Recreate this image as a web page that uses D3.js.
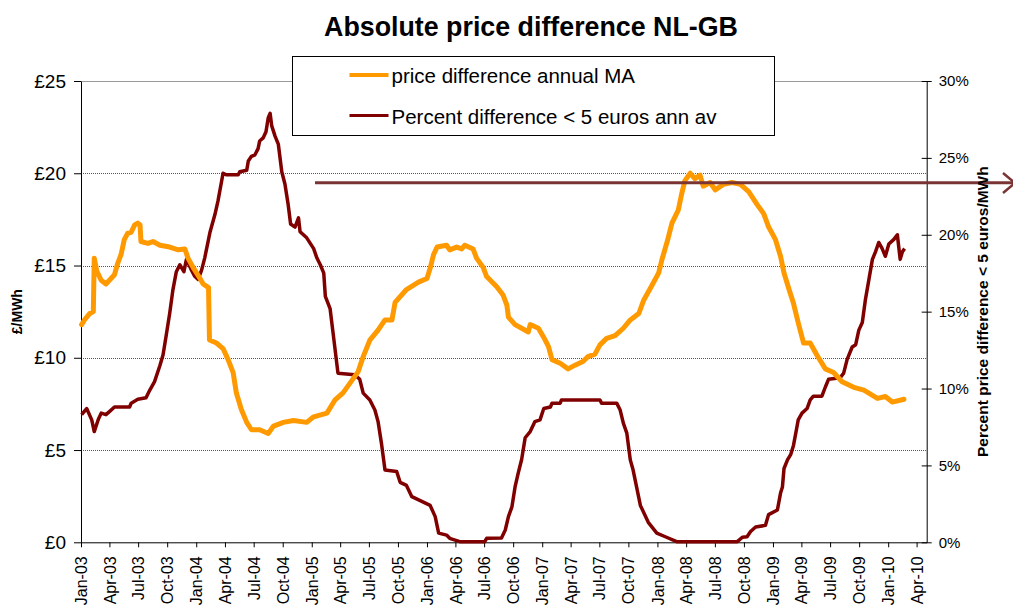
<!DOCTYPE html>
<html>
<head>
<meta charset="utf-8">
<script src="https://cdn.jsdelivr.net/npm/d3@7"></script>
<style>
  body { margin: 0; background: #fff; }
  text { font-family: "Liberation Sans", Arial, sans-serif; fill: #000; }
  .grid line { stroke: #555; stroke-dasharray: 1,1; }
</style>
</head>
<body>
<div id="chart"></div>
<script>
// price difference annual MA (GBP/MWh), left axis
var orangeDates = ["2003-01-03","2003-01-14","2003-01-29","2003-02-09","2003-02-12","2003-02-20","2003-03-06","2003-03-21","2003-04-01","2003-04-17",
  "2003-04-27","2003-05-08","2003-05-18","2003-05-29","2003-06-09","2003-06-20","2003-06-30","2003-07-07","2003-07-10","2003-08-01",
  "2003-08-17","2003-09-08","2003-10-09","2003-11-05","2003-11-26","2003-12-06","2003-12-22","2004-01-13","2004-01-23","2004-02-09",
  "2004-02-12","2004-03-05","2004-03-26","2004-04-11","2004-04-27","2004-05-07","2004-05-23","2004-06-09","2004-06-24","2004-07-20",
  "2004-08-16","2004-09-02","2004-10-03","2004-11-04","2004-12-16","2005-01-07","2005-02-18","2005-03-15","2005-04-10","2005-05-01",
  "2005-05-28","2005-06-13","2005-07-04","2005-07-30","2005-08-21","2005-09-12","2005-09-22","2005-10-28","2005-12-05","2006-01-01",
  "2006-01-11","2006-01-22","2006-02-02","2006-03-04","2006-03-14","2006-04-05","2006-04-21","2006-05-01","2006-05-27","2006-06-07",
  "2006-06-28","2006-07-09","2006-08-10","2006-08-30","2006-09-11","2006-09-16","2006-10-07","2006-10-28","2006-11-18","2006-11-24",
  "2006-12-20","2007-01-06","2007-01-21","2007-02-01","2007-02-27","2007-03-24","2007-04-15","2007-05-10","2007-05-26","2007-06-17",
  "2007-07-03","2007-07-24","2007-08-20","2007-09-15","2007-10-07","2007-11-03","2007-11-18","2007-12-14","2008-01-05","2008-01-15",
  "2008-02-01","2008-02-16","2008-03-07","2008-03-18","2008-03-28","2008-04-14","2008-04-29","2008-05-15","2008-05-25","2008-06-16",
  "2008-07-02","2008-07-28","2008-08-24","2008-09-20","2008-10-16","2008-11-12","2008-12-03","2008-12-18","2009-01-09","2009-01-25",
  "2009-02-05","2009-02-21","2009-03-07","2009-03-22","2009-04-08","2009-04-29","2009-05-20","2009-06-16","2009-07-12","2009-08-08",
  "2009-09-14","2009-10-16","2009-11-28","2009-12-23","2010-01-14","2010-02-20"];
var orangeValues = [11.8,12.1,12.4,12.5,15.4,14.7,14.2,14.0,14.2,14.5,
  15.1,15.6,16.4,16.75,16.8,17.2,17.3,17.2,16.3,16.2,
  16.3,16.1,16.0,15.85,15.9,15.4,14.9,14.3,14.0,13.8,
  10.96,10.8,10.5,9.9,9.2,8.1,7.2,6.5,6.1,6.1,
  5.9,6.3,6.5,6.6,6.5,6.8,7.0,7.7,8.1,8.6,
  9.25,10.06,10.96,11.5,12.05,12.05,13.0,13.7,14.1,14.3,
  14.85,15.6,16.0,16.1,15.85,16.0,15.9,16.1,15.9,15.4,
  14.9,14.4,13.85,13.4,12.86,12.2,11.8,11.6,11.4,11.8,
  11.6,11.1,10.6,9.9,9.7,9.4,9.6,9.8,10.06,10.2,
  10.7,11.05,11.2,11.6,12.05,12.4,13.1,13.9,14.6,15.3,
  16.3,17.3,18.0,18.9,19.6,20.0,19.7,19.9,19.3,19.5,
  19.1,19.4,19.5,19.4,19.0,18.3,17.8,17.1,16.4,15.5,
  14.6,13.7,12.95,11.9,10.8,10.8,10.15,9.4,9.2,8.7,
  8.4,8.25,7.8,7.9,7.6,7.75];

// Percent difference < 5 euros ann av (%), right axis
var redDates = ["2003-01-03","2003-01-19","2003-02-04","2003-02-12","2003-02-25","2003-03-06","2003-03-21","2003-04-01","2003-04-17","2003-06-04",
  "2003-06-09","2003-06-30","2003-07-26","2003-08-07","2003-08-22","2003-09-08","2003-09-18","2003-09-29","2003-10-09","2003-10-19",
  "2003-10-30","2003-11-10","2003-11-23","2003-12-01","2003-12-17","2003-12-27","2004-01-07","2004-01-18","2004-01-28","2004-02-14",
  "2004-02-29","2004-03-10","2004-03-26","2004-04-06","2004-05-13","2004-05-18","2004-06-09","2004-06-14","2004-06-24","2004-07-05",
  "2004-07-15","2004-07-20","2004-07-31","2004-08-09","2004-08-16","2004-08-22","2004-08-27","2004-09-07","2004-09-17","2004-09-28",
  "2004-10-08","2004-10-18","2004-10-26","2004-11-09","2004-11-20","2004-11-25","2004-12-16","2005-01-07","2005-01-17","2005-01-28",
  "2005-02-08","2005-02-13","2005-02-28","2005-03-09","2005-03-25","2005-05-17","2005-06-02","2005-06-13","2005-07-04","2005-07-20",
  "2005-07-30","2005-08-10","2005-08-21","2005-09-27","2005-10-08","2005-10-28","2005-11-14","2006-01-11","2006-01-27","2006-02-07",
  "2006-03-04","2006-03-14","2006-04-15","2006-07-03","2006-07-09","2006-08-25","2006-09-06","2006-09-16","2006-09-27","2006-10-07",
  "2006-10-17","2006-10-28","2006-11-08","2006-11-24","2006-12-09","2006-12-25","2007-01-06","2007-01-27","2007-02-01","2007-02-27",
  "2007-03-03","2007-07-03","2007-07-08","2007-08-25","2007-09-05","2007-09-15","2007-09-26","2007-10-07","2007-10-16","2007-11-08",
  "2007-12-03","2007-12-30","2008-01-26","2008-03-02","2008-09-10","2008-09-26","2008-10-11","2008-10-22","2008-11-07","2008-12-08",
  "2008-12-18","2009-01-15","2009-01-25","2009-01-31","2009-02-05","2009-02-16","2009-02-26","2009-03-07","2009-03-17","2009-03-22",
  "2009-04-03","2009-04-19","2009-04-29","2009-05-09","2009-06-05","2009-06-16","2009-06-26","2009-08-02","2009-08-13","2009-08-24",
  "2009-09-09","2009-09-20","2009-09-30","2009-10-11","2009-10-21","2009-11-01","2009-11-12","2009-11-22","2009-12-02","2009-12-13",
  "2009-12-23","2010-01-03","2010-01-19","2010-01-30","2010-02-08","2010-02-15","2010-02-22"];
var redValues = [8.3,8.7,7.96,7.2,8.0,8.4,8.3,8.5,8.8,8.8,
  9.05,9.3,9.4,9.9,10.45,11.5,12.2,13.6,14.9,16.4,
  17.6,18.05,17.6,18.4,17.7,17.3,17.1,17.7,18.5,20.2,
  21.3,22.2,24.0,23.9,23.9,24.1,24.2,24.8,25.1,25.2,
  25.6,26.1,26.3,26.7,27.6,27.9,27.1,26.4,25.9,24.1,
  23.3,22.0,20.7,20.5,21.1,20.2,19.8,19.1,18.5,18.05,
  17.5,16.0,15.2,13.7,11.0,10.9,10.6,9.7,9.26,8.6,
  7.85,6.4,4.7,4.6,3.9,3.7,2.97,2.4,1.67,0.6,
  0.47,0.26,0.04,0.04,0.26,0.28,0.8,1.67,2.3,3.6,
  4.5,5.4,6.8,7.2,7.85,7.96,8.7,8.8,9.05,9.05,
  9.26,9.26,9.05,9.05,8.6,7.75,7.1,5.36,4.7,2.4,
  1.3,0.6,0.36,0.04,0.04,0.33,0.36,0.7,1.0,1.1,
  1.8,2.1,3.2,3.6,4.8,5.36,5.7,6.3,7.4,7.96,
  8.4,8.7,9.26,9.5,9.5,10.1,10.6,10.7,11.0,11.9,
  12.7,12.85,13.8,14.3,15.8,17.1,18.4,18.9,19.5,19.1,
  18.6,19.4,19.7,20.0,18.4,18.9,19.1];

var leftTicks = [0, 5, 10, 15, 20, 25];
var rightTicks = [0, 5, 10, 15, 20, 25, 30];
var legendLabels = ["price difference annual MA", "Percent difference < 5 euros ann av"];

var parseTime = d3.timeParse("%Y-%m-%d");

var svg = d3.select("#chart")
    .append("svg")
    .attr("width", 1013)
    .attr("height", 607);

var margin = {top: 81, right: 86.3, bottom: 64.7, left: 81},
    width = +svg.attr("width") - margin.left - margin.right,
    height = +svg.attr("height") - margin.top - margin.bottom;

var g = svg.append("g")
    .attr("transform", "translate(" + margin.left + "," + margin.top + ")");

var x = d3.scaleTime()
    .domain([parseTime("2003-01-01"), parseTime("2010-05-03")])
    .range([0, width]);

var yLeft = d3.scaleLinear().domain([0, 25]).range([height, 0]);
var yRight = d3.scaleLinear().domain([0, 30]).range([height, 0]);

var orange = orangeDates.map(function(d, i) { return {date: parseTime(d), value: orangeValues[i]}; });
var red = redDates.map(function(d, i) { return {date: parseTime(d), value: redValues[i]}; });

// gridlines
g.append("g")
    .attr("class", "grid")
  .selectAll("line")
    .data(leftTicks.filter(function(d) { return d > 0 && d < 25; }))
  .enter().append("line")
    .attr("x1", 0)
    .attr("x2", width)
    .attr("y1", function(d) { return Math.round(yLeft(d)) + 0.5; })
    .attr("y2", function(d) { return Math.round(yLeft(d)) + 0.5; });

g.append("line")
    .attr("x1", 0).attr("x2", width)
    .attr("y1", 0.5).attr("y2", 0.5)
    .style("stroke", "#999");

// x axis
var xAxis = g.append("g")
    .attr("transform", "translate(0," + height + ")")
    .call(d3.axisBottom(x)
        .ticks(d3.timeMonth.every(3))
        .tickFormat(d3.timeFormat("%b-%y"))
        .tickSize(5)
        .tickSizeOuter(0));
xAxis.select(".domain").style("stroke", "#000");
xAxis.selectAll("text")
    .style("font-size", "16px")
    .attr("text-anchor", "end")
    .attr("transform", "rotate(-90)")
    .attr("x", -14)
    .attr("y", 0)
    .attr("dy", "0.35em");

// left axis
var leftAxis = g.append("g")
    .call(d3.axisLeft(yLeft)
        .tickValues(leftTicks)
        .tickFormat(function(d) { return "£" + d; })
        .tickSize(7)
        .tickSizeOuter(0)
        .tickPadding(8));
leftAxis.selectAll("text").style("font-size", "19px");

// right axis, ticks cross the line
var rightAxis = g.append("g")
    .attr("transform", "translate(" + width + ",0)")
    .call(d3.axisRight(yRight)
        .tickValues(rightTicks)
        .tickFormat(function(d) { return d + "%"; })
        .tickSize(5)
        .tickSizeOuter(0)
        .tickPadding(7));
rightAxis.selectAll(".tick line").attr("x1", -5);
rightAxis.selectAll("text").style("font-size", "15px");

// series
g.append("path")
    .datum(red)
    .attr("fill", "none")
    .attr("stroke", "#800000")
    .attr("stroke-width", 3.5)
    .attr("stroke-linejoin", "round")
    .attr("d", d3.line()
        .x(function(d) { return x(d.date); })
        .y(function(d) { return yRight(d.value); }));

g.append("path")
    .datum(orange)
    .attr("fill", "none")
    .attr("stroke", "#ff9900")
    .attr("stroke-width", 5)
    .attr("stroke-linejoin", "round")
    .attr("stroke-linecap", "round")
    .attr("d", d3.line()
        .x(function(d) { return x(d.date); })
        .y(function(d) { return yLeft(d.value); }));

// stray arrow line across the chart
svg.append("line")
    .attr("x1", 315).attr("x2", 1013)
    .attr("y1", 182.7).attr("y2", 182.7)
    .style("stroke", "#7a3434")
    .style("stroke-width", 3);
svg.append("path")
    .attr("d", "M1003,173L1015,183L1003,193")
    .attr("fill", "none")
    .style("stroke", "#7a3434")
    .style("stroke-width", 2.5);

// title
svg.append("text")
    .attr("x", 531)
    .attr("y", 36)
    .attr("text-anchor", "middle")
    .style("font-size", "26.8px")
    .style("font-weight", "bold")
    .text("Absolute price difference NL-GB");

// axis titles
svg.append("text")
    .attr("transform", "translate(21.5," + (margin.top + height / 2) + ") rotate(-90)")
    .attr("text-anchor", "middle")
    .style("font-size", "14px")
    .style("font-weight", "bold")
    .text("£/MWh");

svg.append("text")
    .attr("transform", "translate(988," + (margin.top + height / 2) + ") rotate(-90)")
    .attr("text-anchor", "middle")
    .style("font-size", "15.5px")
    .style("font-weight", "bold")
    .text("Percent price difference < 5 euros/MWh");

// legend
var legend = svg.append("g").attr("transform", "translate(292.5,56.5)");
legend.append("rect")
    .attr("width", 482)
    .attr("height", 79)
    .attr("fill", "#fff")
    .attr("stroke", "#000");
var legendColors = ["#ff9900", "#800000"];
var legendWidths = [4, 3];
var item = legend.selectAll(".item")
    .data(legendLabels)
  .enter().append("g")
    .attr("class", "item")
    .attr("transform", function(d, i) { return "translate(0," + (i * 40.5) + ")"; });
item.append("line")
    .attr("x1", 57).attr("x2", 96)
    .attr("y1", 18.5).attr("y2", 18.5)
    .style("stroke", function(d, i) { return legendColors[i]; })
    .style("stroke-width", function(d, i) { return legendWidths[i]; });
item.append("text")
    .attr("x", 99)
    .attr("y", 26.5)
    .style("font-size", "20.5px")
    .text(function(d) { return d; });
</script>
</body>
</html>
